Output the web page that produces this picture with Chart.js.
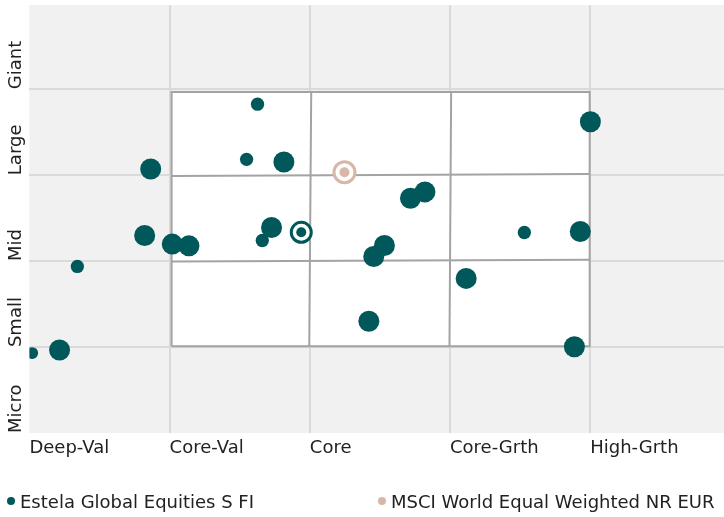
<!DOCTYPE html>
<html>
<head>
<meta charset="utf-8">
<script src="https://cdn.jsdelivr.net/npm/chart.js@4.4.1/dist/chart.umd.min.js"></script>
<style>
    html, body { margin: 0; padding: 0; background: #fff; }
    #wrap { position: relative; width: 724px; height: 517px; }
    #legend {
        position: absolute; left: 7px; top: 489px; width: 717px; height: 24px;
        display: grid; grid-template-columns: 371px auto;
        font: 18px "DejaVu Sans", Verdana, sans-serif; color: #222;
    }
    .item { display: flex; align-items: center; height: 24px; white-space: nowrap; }
    .dot { width: 8px; height: 8px; border-radius: 50%; margin-right: 5px; flex: none; }
</style>
</head>
<body>
<div id="wrap">
    <canvas id="styleBox" width="724" height="517"></canvas>
    <div id="legend"></div>
</div>
<script>
// eixos: estilo (x) e tamanho (y)
const styleLabels = ['Deep-Val', 'Core-Val', 'Core', 'Core-Grth', 'High-Grth'];
const sizeLabels = ['Micro', 'Small', 'Mid', 'Large', 'Giant'];

// posições das ações e peso em carteira (%)
const holdingX = [0.02, 0.215, 0.342, 0.822, 0.865, 1.019, 1.138, 1.627, 1.549, 1.815, 1.727,
                  1.661, 2.718, 2.821, 2.532, 2.456, 2.421, 4.001, 3.530, 3.929, 3.115, 3.887];
const holdingY = [0.93, 0.966, 1.938, 2.298, 3.072, 2.198, 2.178, 3.826, 3.184, 3.153, 2.391,
                  2.240, 2.732, 2.805, 2.182, 2.054, 1.300, 3.621, 2.333, 2.344, 1.799, 1.003];
const holdingWeight = [1.6, 5, 2, 5, 5, 5, 5, 2, 2, 5, 5,
                       2, 5, 5, 5, 5, 5, 5, 2, 5, 5, 5];

const portfolioXY = [1.939, 2.335];
const benchmarkXY = [2.247, 3.034];

// limites do style box
const boxX = [1.014, 3.996];
const boxY = [1.010, 3.969];
const innerVX = [[2.010, 1.996], [3.008, 2.996]]; // x no topo, x na base
const innerHY = [[2.991, 3.014], [1.996, 2.016]]; // y à esquerda, y à direita

const seriesNames = ['Estela Global Equities S FI', 'MSCI World Equal Weighted NR EUR'];

const teal = '#00585a';
const sand = '#d8b6a8';
const boxLine = '#a3a3a3';
const font = { family: '"DejaVu Sans", Verdana, sans-serif', size: 18, lineHeight: 1.2 };

const plotBg = {
    id: 'plotBg',
    beforeDraw(chart) {
        const { ctx, chartArea: a } = chart;
        ctx.save();
        ctx.fillStyle = '#f1f1f1';
        ctx.fillRect(a.left, a.top, a.right - a.left, a.bottom - a.top);
        ctx.restore();
    }
};

const segment = (pts, order) => ({
    data: pts, showLine: true, pointRadius: 0, borderColor: boxLine, borderWidth: 2, fill: false, order
});

const datasets = [
    { data: [{ x: portfolioXY[0], y: portfolioXY[1] }], pointRadius: 5, backgroundColor: teal, borderWidth: 0, order: 0 },
    { data: [{ x: portfolioXY[0], y: portfolioXY[1] }], pointRadius: 10, backgroundColor: '#fff', borderColor: teal, borderWidth: 3, order: 1 },
    { data: [{ x: benchmarkXY[0], y: benchmarkXY[1] }], pointRadius: 5, backgroundColor: sand, borderWidth: 0, order: 2 },
    { data: [{ x: benchmarkXY[0], y: benchmarkXY[1] }], pointRadius: 10.5, backgroundColor: '#fff', borderColor: sand, borderWidth: 3, order: 3 },
    {
        data: holdingX.map((x, i) => ({ x, y: holdingY[i] })),
        pointRadius: c => 4.7 * Math.sqrt(holdingWeight[c.dataIndex] || 0),
        backgroundColor: teal, borderWidth: 0, clip: 0, order: 4
    },
    segment([{ x: innerVX[0][0], y: boxY[1] }, { x: innerVX[0][1], y: boxY[0] }], 5),
    segment([{ x: innerVX[1][0], y: boxY[1] }, { x: innerVX[1][1], y: boxY[0] }], 5),
    segment([{ x: boxX[0], y: innerHY[0][0] }, { x: boxX[1], y: innerHY[0][1] }], 5),
    segment([{ x: boxX[0], y: innerHY[1][0] }, { x: boxX[1], y: innerHY[1][1] }], 5),
    {
        data: [
            { x: boxX[0], y: boxY[0] }, { x: boxX[0], y: boxY[1] }, { x: boxX[1], y: boxY[1] },
            { x: boxX[1], y: boxY[0] }, { x: boxX[0], y: boxY[0] }
        ],
        showLine: true, pointRadius: 0, borderColor: boxLine, borderWidth: 2,
        backgroundColor: '#fff', fill: 'shape', order: 9
    }
];

const gridOpts = {
    color: c => (c.tick && c.tick.value === 0) ? 'rgba(0,0,0,0)' : '#dadada',
    lineWidth: 2,
    drawTicks: false
};

// sem margens extras para os rótulos, a área do gráfico vai até a borda
const noPadding = ax => { ax.paddingLeft = ax.paddingRight = ax.paddingTop = ax.paddingBottom = 0; };

new Chart(document.getElementById('styleBox'), {
    type: 'scatter',
    data: { datasets },
    options: {
        responsive: false,
        animation: false,
        events: [],
        layout: { autoPadding: false, padding: { left: 7, top: 5, right: 0, bottom: 52.4 } },
        plugins: { legend: { display: false }, tooltip: { enabled: false } },
        scales: {
            x: {
                type: 'linear', min: 0, max: 4.954,
                afterBuildTicks: ax => { ax.ticks = styleLabels.map((_, i) => ({ value: i })); },
                afterFit: noPadding,
                grid: gridOpts,
                border: { display: false },
                ticks: { align: 'start', padding: 5, color: '#222', font, callback: v => styleLabels[v] }
            },
            y: {
                type: 'linear', min: 0, max: 4.98,
                afterBuildTicks: ax => { ax.ticks = sizeLabels.map((_, i) => ({ value: i })); },
                afterFit: noPadding,
                grid: gridOpts,
                border: { display: false },
                ticks: {
                    minRotation: 90, maxRotation: 90, align: 'start', crossAlign: 'far',
                    padding: 0.4, color: '#222', font, callback: v => sizeLabels[v]
                }
            }
        }
    },
    plugins: [plotBg]
});

document.getElementById('legend').innerHTML = seriesNames.map((name, i) => `
    <div class="item"><span class="dot" style="background:${i === 0 ? teal : sand}"></span>${name}</div>
`).join('');
</script>
</body>
</html>
